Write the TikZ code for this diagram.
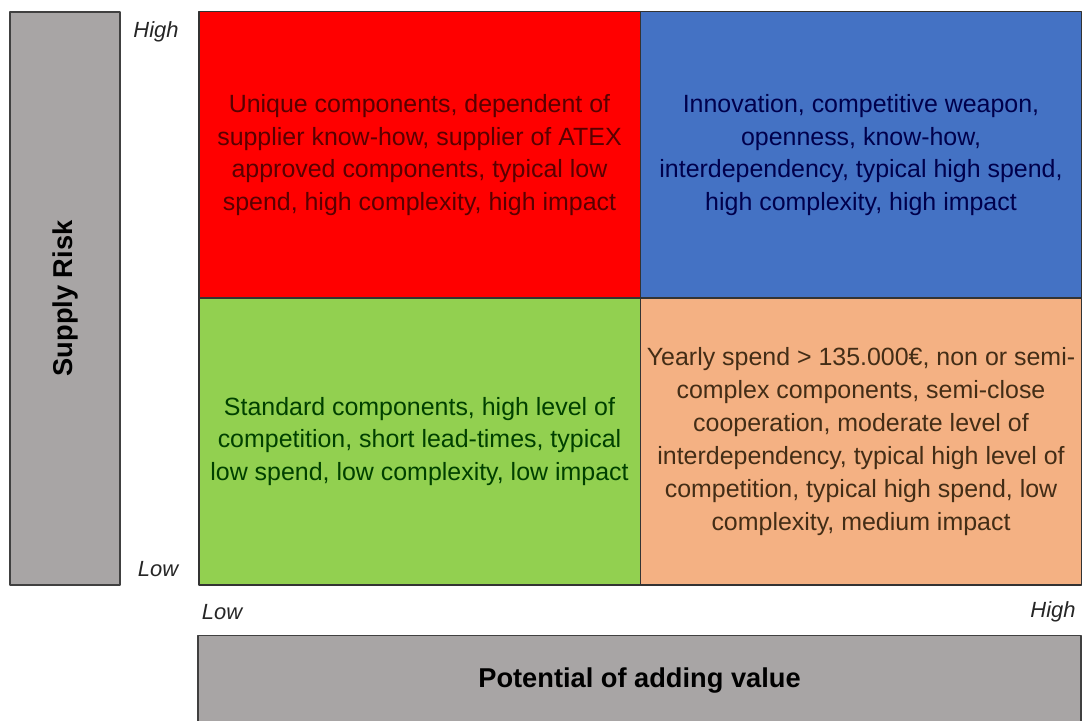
\documentclass[tikz,border=0pt]{standalone}
\usepackage{fontspec}
\setmainfont{Liberation Sans}
\usepackage{xcolor}
\definecolor{riskred}{HTML}{FF0000}
\definecolor{riskblue}{HTML}{4472C4}
\definecolor{riskgreen}{HTML}{92D050}
\definecolor{riskorange}{HTML}{F4B183}
\definecolor{axisgray}{HTML}{A8A5A5}

\begin{document}
\begin{tikzpicture}[line cap=round,line join=round,x=0.02cm,y=-0.02cm,
  cell/.style={draw=black!80, line width=0.8pt, minimum width=8.83cm, minimum height=5.74cm,
    align=center, inner sep=0pt, font=\fontsize{14.2}{18.7}\selectfont},
  axisbox/.style={draw=black!75, fill=axisgray, line width=0.8pt, inner sep=0pt,
    font=\bfseries\fontsize{15.5}{18}\selectfont},
  tick/.style={font=\itshape\fontsize{12.5}{14}\selectfont, text=black!85}]
\useasboundingbox (0,0) rectangle (1084,720);

% quadrants
\node[cell, fill=riskred, text=red!35!black] (bottleneck) at (419.5,155) {Unique components, dependent of\\supplier know-how, supplier of ATEX\\approved components, typical low\\spend, high complexity, high impact};
\node[cell, fill=riskblue, text=blue!30!black] (strategic) at (861,155) {Innovation, competitive weapon,\\openness, know-how,\\interdependency, typical high spend,\\high complexity, high impact};
\node[cell, fill=riskgreen, text=green!25!black] (routine) at (419.5,441.5) {Standard components, high level of\\competition, short lead-times, typical\\low spend, low complexity, low impact};
\node[cell, fill=riskorange, text=brown!35!black] (leverage) at (861,441.5) {Yearly spend > 135.000€, non or semi-\\complex components, semi-close\\cooperation, moderate level of\\interdependency, typical high level of\\competition, typical high spend, low\\complexity, medium impact};

% axes
\node[axisbox, minimum width=2.2cm, minimum height=11.46cm] (risk) at (65,298.5) {};
\node[rotate=90, font=\bfseries\fontsize{15.5}{18}\selectfont] (risklabel) at (risk.center) {Supply Risk};
\node[axisbox, minimum width=17.66cm, minimum height=1.8cm, anchor=north] (value) at (639.5,635) {};
\node[font=\bfseries\fontsize{15.5}{18}\selectfont] (valuelabel) at (639.5,681) {Potential of adding value};

\node[tick] (riskhigh) at (156,32) {High};
\node[tick] (risklow) at (158,569) {Low};
\node[tick] (valuelow) at (222,612) {Low};
\node[tick] (valuehigh) at (1053,612) {High};
\end{tikzpicture}
\end{document}
